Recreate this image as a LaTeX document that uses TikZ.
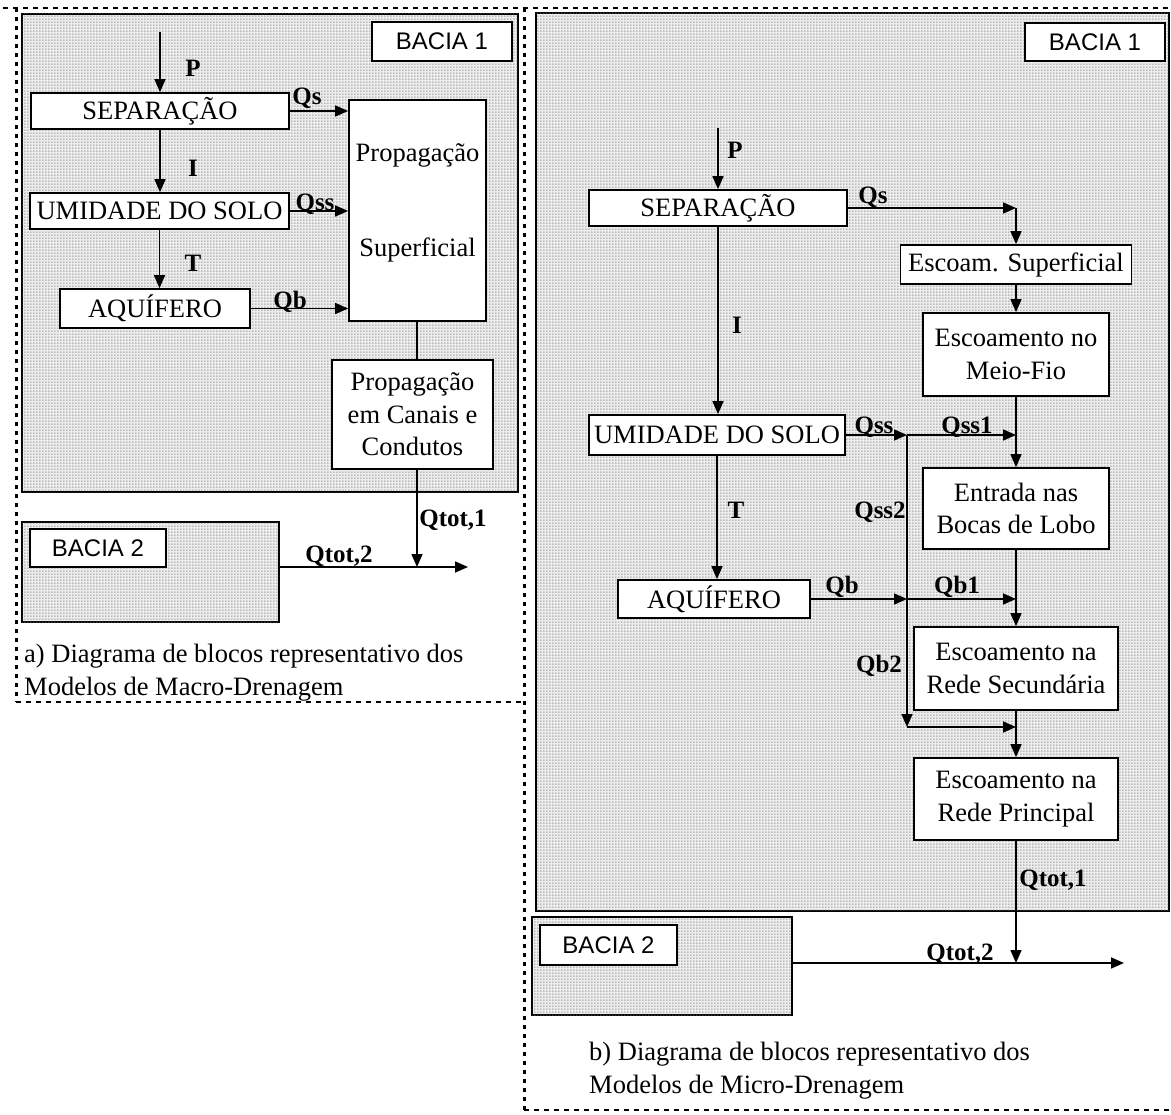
\documentclass[tikz,border=0pt]{standalone}
\usepackage{fontspec}
\setmainfont{Liberation Serif}
\newfontfamily\arialf{Liberation Sans}
\usetikzlibrary{arrows.meta,patterns}
\pgfdeclarepatternformonly{stipple}{\pgfqpoint{0pt}{0pt}}{\pgfqpoint{3pt}{3pt}}{\pgfqpoint{3pt}{3pt}}{\pgfpathrectangle{\pgfqpoint{0.6pt}{0.6pt}}{\pgfqpoint{1.2pt}{1.2pt}}\pgfusepath{fill}}
\newcommand{\boxfnt}{\fontsize{26.5}{32.5}\selectfont}
\newcommand{\labfnt}{\fontsize{25}{28}\selectfont\bfseries}
\newcommand{\bacfnt}{\fontsize{24}{28}\selectfont\arialf}
\newcommand{\capfnt}{\fontsize{26.5}{33}\selectfont}
\begin{document}
\begin{tikzpicture}[x=1pt,y=-1pt,
  box/.style={draw, line width=1.7pt, fill=white, inner sep=0pt, font=\boxfnt, align=center},
  bac/.style={draw, line width=1.7pt, fill=white, inner sep=0pt, font=\bacfnt},
  basin/.style={draw, line width=1.7pt, inner sep=0pt, fill=gray!14,
     postaction={pattern=stipple, pattern color=gray!90!black}},
  lab/.style={font=\labfnt, inner sep=0pt},
  txt/.style={font=\boxfnt, inner sep=0pt},
  arr/.style={line width=1.6pt, -{Triangle[length=13pt,width=11pt]}},
  ln/.style={line width=1.6pt},
  frameh/.style={line width=2.2pt, dash pattern=on 5pt off 5pt},
  framev/.style={line width=3pt, dash pattern=on 4pt off 5pt}]
\useasboundingbox (0,0) rectangle (1171,1115);

% ---------- frames ----------
\draw[frameh] (3,8) -- (1171,8);
\draw[framev] (16,8) -- (16,702);
\draw[frameh] (16,702) -- (524,702);
\draw[framev] (524,8) -- (524,1110);
\draw[frameh] (524,1110) -- (1171,1110);

% ================= (a) =================
\node[basin, minimum width=496pt, minimum height=478pt] (bacia1A) at (270,253) {};
\node[basin, minimum width=257pt, minimum height=100pt] (bacia2A) at (150.5,572) {};
\node[bac, minimum width=140pt, minimum height=39pt] (b1labA) at (442,41.5) {BACIA 1};
\node[bac, minimum width=136pt, minimum height=38pt] (b2labA) at (98,548) {BACIA 2};

\node[box, minimum width=258pt, minimum height=36pt] (sepA) at (160,111) {SEPARAÇÃO};
\node[box, minimum width=259pt, minimum height=36pt] (umiA) at (159.5,211) {UMIDADE DO SOLO};
\node[box, minimum width=190pt, minimum height=39pt] (aqA) at (155,308.5) {AQUÍFERO};
\node[box, minimum width=137pt, minimum height=221pt] (propA) at (417.5,210.5) {};
\node[txt] (propA1) at (417.5,155) {Propagação};
\node[txt] (propA2) at (417.5,250) {Superficial};
\node[box, minimum width=161pt, minimum height=109pt] (canA) at (412.5,414.5) {Propagação\\em Canais e\\Condutos};

\coordinate (pA) at (160,32);
\coordinate (jA) at (417,567);
\coordinate (endA) at (468,567);

\draw[arr] (pA) -- (sepA.north);
\draw[arr] (sepA.south) -- (sepA.south |- umiA.north);
\draw[arr] (umiA.south) -- (umiA.south |- aqA.north);
\draw[arr] (sepA.east) -- (propA.west |- sepA.east);
\draw[arr] (umiA.east) -- (propA.west |- umiA.east);
\draw[arr] (aqA.east) -- (propA.west |- aqA.east);
\draw[ln] (417,0 |- propA.south) -- (417,0 |- canA.north);
\draw[arr] (417,0 |- canA.south) -- (jA);
\draw[arr] (bacia2A.east |- jA) -- (endA);

\node[lab] (lPA) at (193,68) {P};
\node[lab] (lIA) at (193,168) {I};
\node[lab] (lTA) at (193,263) {T};
\node[lab] (lQsA) at (307,98) {Qs};
\node[lab] (lQssA) at (315,204) {Qss};
\node[lab] (lQbA) at (290,302) {Qb};
\node[lab] (lQt1A) at (453,520) {Qtot,1};
\node[lab] (lQt2A) at (339,556) {Qtot,2};

\node[font=\capfnt, anchor=base west, align=left, inner sep=0pt] (capA) at (24,695)
  {a) Diagrama de blocos representativo dos\\Modelos de Macro-Drenagem};

% ================= (b) =================
\node[basin, minimum width=633pt, minimum height=898pt] (bacia1B) at (852.5,462) {};
\node[basin, minimum width=260pt, minimum height=98pt] (bacia2B) at (662,966) {};
\node[bac, minimum width=140pt, minimum height=38pt] (b1labB) at (1095,42) {BACIA 1};
\node[bac, minimum width=137pt, minimum height=40pt] (b2labB) at (608.5,945) {BACIA 2};

\node[box, minimum width=258pt, minimum height=36pt] (sepB) at (718,208) {SEPARAÇÃO};
\node[box, minimum width=256pt, minimum height=40pt] (umiB) at (717,435) {UMIDADE DO SOLO};
\node[box, minimum width=192pt, minimum height=38pt] (aqB) at (714,599) {AQUÍFERO};
\node[box, minimum width=231pt, minimum height=39pt] (escB) at (1016,264.5) {Escoam. Superficial};
\node[box, minimum width=186pt, minimum height=83pt] (meioB) at (1016,354.5) {Escoamento no\\Meio-Fio};
\node[box, minimum width=186pt, minimum height=81pt] (entB) at (1016,508.5) {Entrada nas\\Bocas de Lobo};
\node[box, minimum width=204pt, minimum height=83pt] (secB) at (1016,668.5) {Escoamento na\\Rede Secundária};
\node[box, minimum width=204pt, minimum height=82pt] (prinB) at (1016,799) {Escoamento na\\Rede Principal};

\coordinate (pB) at (718,128);
\coordinate (cQs) at (escB.north |- sepB.east);
\coordinate (jss) at (907,0 |- umiB.east);
\coordinate (jb) at (907,0 |- aqB.east);
\coordinate (jq) at (907,727);
\coordinate (jB) at (1016,963);
\coordinate (endB) at (1124,963);

\draw[arr] (pB) -- (sepB.north);
\draw[arr] (sepB.south) -- (sepB.south |- umiB.north);
\draw[arr] (umiB.south) -- (umiB.south |- aqB.north);
\draw[arr] (sepB.east) -- (cQs);
\draw[arr] (cQs) -- (escB.north);
\draw[arr] (escB.south) -- (meioB.north);
\draw[arr] (meioB.south) -- (entB.north);
\draw[arr] (entB.south) -- (secB.north);
\draw[arr] (secB.south) -- (prinB.north);
\draw[arr] (umiB.east) -- (jss);
\draw[arr] (jss) -- (meioB.south |- jss);
\draw[arr] (jss) -- (jq);
\draw[arr] (jq) -- (secB.south |- jq);
\draw[arr] (aqB.east) -- (jb);
\draw[arr] (jb) -- (entB.south |- jb);
\draw[arr] (prinB.south) -- (jB);
\draw[arr] (bacia2B.east |- jB) -- (endB);

\node[lab] (lPB) at (735,150) {P};
\node[lab] (lIB) at (737,325) {I};
\node[lab] (lTB) at (736,510) {T};
\node[lab] (lQsB) at (873,197) {Qs};
\node[lab] (lQssB) at (874,427) {Qss};
\node[lab] (lQss1B) at (967,427) {Qss1};
\node[lab] (lQss2B) at (880,512) {Qss2};
\node[lab] (lQbB) at (842,587) {Qb};
\node[lab] (lQb1B) at (957,587) {Qb1};
\node[lab] (lQb2B) at (879,666) {Qb2};
\node[lab] (lQt1B) at (1053,880) {Qtot,1};
\node[lab] (lQt2B) at (960,954) {Qtot,2};

\node[font=\capfnt, anchor=base west, align=left, inner sep=0pt] (capB) at (589,1093)
  {b) Diagrama de blocos representativo dos\\Modelos de Micro-Drenagem};
\end{tikzpicture}
\end{document}
